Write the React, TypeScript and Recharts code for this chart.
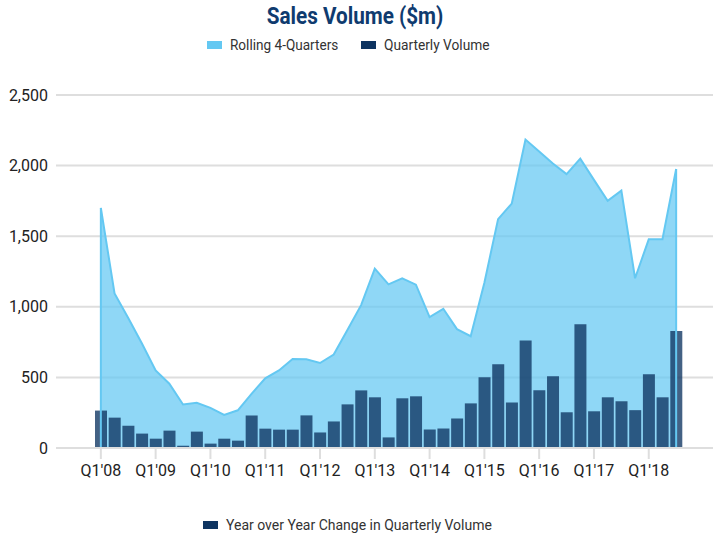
import React from "react";
import { ComposedChart, Area, Bar, XAxis, YAxis, CartesianGrid, ReferenceLine } from "recharts";

const quarters = [
  "Q1'08", "Q2'08", "Q3'08", "Q4'08",
  "Q1'09", "Q2'09", "Q3'09", "Q4'09",
  "Q1'10", "Q2'10", "Q3'10", "Q4'10",
  "Q1'11", "Q2'11", "Q3'11", "Q4'11",
  "Q1'12", "Q2'12", "Q3'12", "Q4'12",
  "Q1'13", "Q2'13", "Q3'13", "Q4'13",
  "Q1'14", "Q2'14", "Q3'14", "Q4'14",
  "Q1'15", "Q2'15", "Q3'15", "Q4'15",
  "Q1'16", "Q2'16", "Q3'16", "Q4'16",
  "Q1'17", "Q2'17", "Q3'17", "Q4'17",
  "Q1'18", "Q2'18", "Q3'18",
];

const rolling4Q = [
  1700, 1095, 920, 740,
  549, 455, 308, 320,
  284, 234, 267, 384,
  493, 549, 630, 628,
  602, 662, 835, 1012,
  1270, 1159, 1202, 1157,
  927, 986, 842, 792,
  1170, 1621, 1731, 2184,
  2100, 2015, 1940, 2049,
  1899, 1750, 1823, 1202,
  1478, 1478, 1976,
];

const quarterlyVolume = [
  265, 215, 158, 102,
  66, 123, 16, 116,
  31, 66, 52, 230,
  137, 130, 130, 231,
  110, 188, 309, 408,
  359, 75, 352, 366,
  131, 138, 209, 316,
  501, 593, 323, 762,
  409, 508, 253, 877,
  260, 359, 331, 268,
  522, 359, 828,
];

const xTicks = ["Q1'08", "Q1'09", "Q1'10", "Q1'11", "Q1'12", "Q1'13", "Q1'14", "Q1'15", "Q1'16", "Q1'17", "Q1'18"];
const yTicks = [0, 500, 1000, 1500, 2000, 2500];

const data = quarters.map((q, i) => ({ q, rolling: rolling4Q[i], quarterly: quarterlyVolume[i] }));

const AREA = "#64c8f2";
const NAVY = "#0e3461";
const FONT = "Roboto, 'Noto Sans', sans-serif";
const last = quarters.length - 1;

export default function App() {
  return (
    <div style={{ position: "absolute", left: 0, top: 0, width: 714, height: 538, background: "#fff", fontFamily: FONT }}>
      <div
        style={{
          position: "absolute",
          left: 355,
          top: 3,
          transform: "translateX(-50%) scaleX(0.9)",
          whiteSpace: "nowrap",
          fontFamily: FONT,
          fontWeight: 700,
          fontSize: 23,
          lineHeight: "28px",
          color: "#0f3b6f",
        }}
      >
        Sales Volume ($m)
      </div>
      <div style={{ position: "absolute", left: 207, top: 36, height: 18, display: "flex", alignItems: "center", fontSize: 14, color: "#333", whiteSpace: "nowrap" }}>
        <span style={{ display: "inline-block", width: 15, height: 8, background: AREA, marginRight: 8 }} />
        <span style={{ display: "inline-block", transform: "scaleX(0.97)", transformOrigin: "left center", width: 112 }}>Rolling 4-Quarters</span>
        <span style={{ display: "inline-block", width: 15, height: 8, background: NAVY, marginLeft: 19, marginRight: 8 }} />
        <span style={{ display: "inline-block", transform: "scaleX(0.98)", transformOrigin: "left center" }}>Quarterly Volume</span>
      </div>
      <div style={{ position: "absolute", left: 203, top: 516, height: 18, display: "flex", alignItems: "center", fontSize: 14, color: "#333", whiteSpace: "nowrap" }}>
        <span style={{ display: "inline-block", width: 15, height: 8, background: NAVY, marginRight: 8 }} />
        <span>Year over Year Change in Quarterly Volume</span>
      </div>
      <ComposedChart
        width={714}
        height={538}
        data={data}
        margin={{ top: 95, right: 1, bottom: 50, left: 0 }}
        style={{ position: "absolute", left: 0, top: 0 }}
      >
        <CartesianGrid vertical={false} stroke="#dedede" strokeWidth={2} />
        <XAxis
          dataKey="q"
          ticks={xTicks}
          interval={0}
          height={40}
          padding={{ left: 38, right: 30 }}
          axisLine={{ stroke: "#dedede", strokeWidth: 2 }}
          tickLine={{ stroke: "#dedede", strokeWidth: 2 }}
          tickSize={11}
          tickMargin={6}
          tick={{ fill: "#222", fontSize: 16, fontFamily: FONT }}
        />
        <YAxis
          width={56}
          domain={[0, 2500]}
          ticks={yTicks}
          axisLine={false}
          tickLine={false}
          tick={{ fill: "#222", fontSize: 16, fontFamily: FONT }}
          tickFormatter={(v: number) => v.toLocaleString("en-US")}
        />
        <Area
          type="linear"
          dataKey="rolling"
          stroke={AREA}
          strokeWidth={2}
          fill={AREA}
          fillOpacity={0.72}
          dot={false}
          activeDot={false}
          isAnimationActive={false}
        />
        <ReferenceLine
          segment={[{ x: quarters[0], y: 0 }, { x: quarters[0], y: rolling4Q[0] }]}
          stroke={AREA}
          strokeWidth={2}
        />
        <ReferenceLine
          segment={[{ x: quarters[last], y: 0 }, { x: quarters[last], y: rolling4Q[last] }]}
          stroke={AREA}
          strokeWidth={2}
        />
        <ReferenceLine
          segment={[{ x: quarters[0], y: 0 }, { x: quarters[last], y: 0 }]}
          stroke={AREA}
          strokeWidth={2}
        />
        <Bar dataKey="quarterly" barSize={12} fill={NAVY} fillOpacity={0.78} isAnimationActive={false} />
      </ComposedChart>
    </div>
  );
}
